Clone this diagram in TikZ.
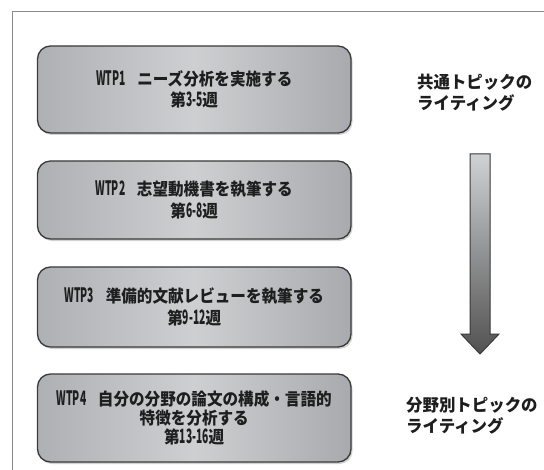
\documentclass[tikz,border=0pt]{standalone}
\usepackage{fontspec}
\newfontfamily\jp{Noto Sans CJK JP}
\usetikzlibrary{shadows}
\definecolor{txt}{HTML}{1E1E1E}
\definecolor{edge}{HTML}{3A3A3A}
\definecolor{boxL}{HTML}{AEB0B3}
\definecolor{boxM}{HTML}{CDCFD1}
\definecolor{boxR}{HTML}{A8AAAD}
\definecolor{frm}{HTML}{8A8A8A}
\newcommand\cq[1]{\scalebox{0.92}[1]{#1}}
\newcommand\latn[1]{\scalebox{0.66}[1.17]{#1}}
\newcommand\sq[1]{\scalebox{0.97}[1]{#1}}
\newcommand\gap{\hspace{0.75em}}
\tikzset{
  wtp/.style={draw=edge, line width=1.3bp, rounded corners=13bp,
    left color=boxL, right color=boxR, middle color=boxM,
    drop shadow={opacity=0.35, shadow xshift=1.5bp, shadow yshift=-2bp},
    minimum width=313.5bp, align=center, text=txt, inner sep=0pt,
    font=\jp\bfseries\fontsize{17}{21.5}\selectfont},
  side/.style={anchor=west, align=left, text=txt, inner sep=0pt,
    font=\jp\bfseries\fontsize{17}{21}\selectfont},
  frame/.style={draw=frm, line width=0.8bp},
  bigarrow/.style={draw=edge, line width=1bp, top color=boxM!95!white, bottom color=black!68},
}
\begin{document}
\begin{tikzpicture}[x=1bp,y=-1bp]
\useasboundingbox[fill=white] (0,0) rectangle (544,470);
\draw[frame] (12,470) -- (12,11) -- (544,11);
\node[wtp, minimum height=87bp] (w1) at (194.25,89.5) {\cq{\latn{WTP1}\gap ニーズ分析を実施する}\\\cq{第\latn{3-5}週}};
\node[wtp, minimum height=78bp] (w2) at (194.25,200) {\cq{\latn{WTP2}\gap 志望動機書を執筆する}\\\cq{第\latn{6-8}週}};
\node[wtp, minimum height=80bp] (w3) at (194.25,307) {\cq{\latn{WTP3}\gap 準備的文献レビューを執筆する}\\\cq{第\latn{9-12}週}};
\node[wtp, minimum height=88bp, font=\jp\bfseries\fontsize{17}{19}\selectfont] (w4) at (194.25,418) {\cq{\latn{WTP4}\gap 自分の分野の論文の構成・言語的}\\\cq{特徴を分析する}\\\cq{第\latn{13-16}週}};
\node[side] (t1) at (417,92.5) {\sq{共通トピックの}\\\sq{ライティング}};
\node[side] (t2) at (406,415.5) {\sq{分野別トピックの}\\\sq{ライティング}};
\path[bigarrow] (470,154) -- (490,154) -- (490,334) -- (499,334) -- (480,354) -- (461,334) -- (470,334) -- cycle;
\end{tikzpicture}
\end{document}
